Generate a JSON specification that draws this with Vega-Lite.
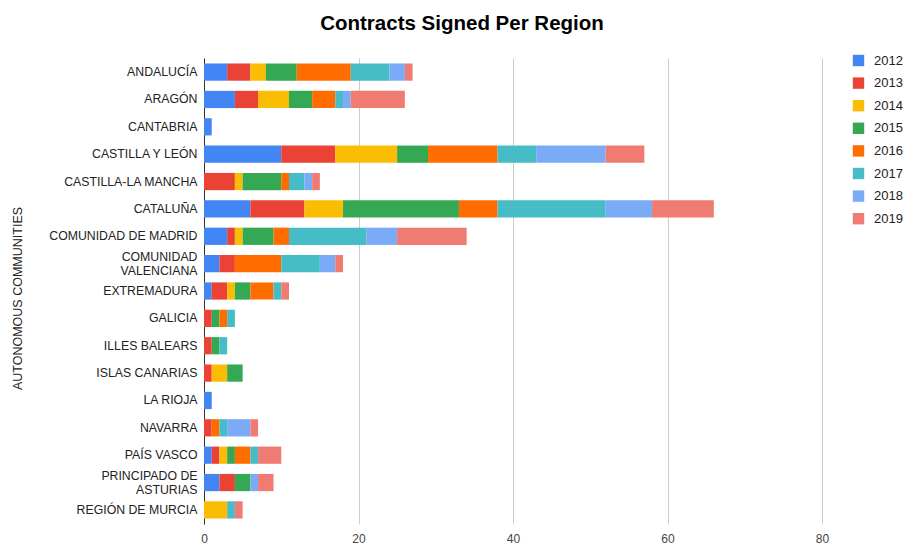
{
  "$schema": "https://vega.github.io/schema/vega-lite/v6.json",
  "width": 618,
  "height": 466,
  "autosize": {"type": "none"},
  "padding": {"left": 204, "top": 58, "right": 83, "bottom": 23},
  "background": "white",
  "title": {
    "text": "Contracts Signed Per Region",
    "font": "Liberation Sans",
    "fontSize": 20.5,
    "fontWeight": "bold",
    "color": "#000000",
    "anchor": "middle",
    "dx": -51,
    "offset": 20
  },
  "data": {
    "values": [
      {"region": "ANDALUCÍA", "year": "2012", "count": 3},
      {"region": "ANDALUCÍA", "year": "2013", "count": 3},
      {"region": "ANDALUCÍA", "year": "2014", "count": 2},
      {"region": "ANDALUCÍA", "year": "2015", "count": 4},
      {"region": "ANDALUCÍA", "year": "2016", "count": 7},
      {"region": "ANDALUCÍA", "year": "2017", "count": 5},
      {"region": "ANDALUCÍA", "year": "2018", "count": 2},
      {"region": "ANDALUCÍA", "year": "2019", "count": 1},
      {"region": "ARAGÓN", "year": "2012", "count": 4},
      {"region": "ARAGÓN", "year": "2013", "count": 3},
      {"region": "ARAGÓN", "year": "2014", "count": 4},
      {"region": "ARAGÓN", "year": "2015", "count": 3},
      {"region": "ARAGÓN", "year": "2016", "count": 3},
      {"region": "ARAGÓN", "year": "2017", "count": 1},
      {"region": "ARAGÓN", "year": "2018", "count": 1},
      {"region": "ARAGÓN", "year": "2019", "count": 7},
      {"region": "CANTABRIA", "year": "2012", "count": 1},
      {"region": "CASTILLA Y LEÓN", "year": "2012", "count": 10},
      {"region": "CASTILLA Y LEÓN", "year": "2013", "count": 7},
      {"region": "CASTILLA Y LEÓN", "year": "2014", "count": 8},
      {"region": "CASTILLA Y LEÓN", "year": "2015", "count": 4},
      {"region": "CASTILLA Y LEÓN", "year": "2016", "count": 9},
      {"region": "CASTILLA Y LEÓN", "year": "2017", "count": 5},
      {"region": "CASTILLA Y LEÓN", "year": "2018", "count": 9},
      {"region": "CASTILLA Y LEÓN", "year": "2019", "count": 5},
      {"region": "CASTILLA-LA MANCHA", "year": "2013", "count": 4},
      {"region": "CASTILLA-LA MANCHA", "year": "2014", "count": 1},
      {"region": "CASTILLA-LA MANCHA", "year": "2015", "count": 5},
      {"region": "CASTILLA-LA MANCHA", "year": "2016", "count": 1},
      {"region": "CASTILLA-LA MANCHA", "year": "2017", "count": 2},
      {"region": "CASTILLA-LA MANCHA", "year": "2018", "count": 1},
      {"region": "CASTILLA-LA MANCHA", "year": "2019", "count": 1},
      {"region": "CATALUÑA", "year": "2012", "count": 6},
      {"region": "CATALUÑA", "year": "2013", "count": 7},
      {"region": "CATALUÑA", "year": "2014", "count": 5},
      {"region": "CATALUÑA", "year": "2015", "count": 15},
      {"region": "CATALUÑA", "year": "2016", "count": 5},
      {"region": "CATALUÑA", "year": "2017", "count": 14},
      {"region": "CATALUÑA", "year": "2018", "count": 6},
      {"region": "CATALUÑA", "year": "2019", "count": 8},
      {"region": "COMUNIDAD DE MADRID", "year": "2012", "count": 3},
      {"region": "COMUNIDAD DE MADRID", "year": "2013", "count": 1},
      {"region": "COMUNIDAD DE MADRID", "year": "2014", "count": 1},
      {"region": "COMUNIDAD DE MADRID", "year": "2015", "count": 4},
      {"region": "COMUNIDAD DE MADRID", "year": "2016", "count": 2},
      {"region": "COMUNIDAD DE MADRID", "year": "2017", "count": 10},
      {"region": "COMUNIDAD DE MADRID", "year": "2018", "count": 4},
      {"region": "COMUNIDAD DE MADRID", "year": "2019", "count": 9},
      {"region": "COMUNIDAD VALENCIANA", "year": "2012", "count": 2},
      {"region": "COMUNIDAD VALENCIANA", "year": "2013", "count": 2},
      {"region": "COMUNIDAD VALENCIANA", "year": "2016", "count": 6},
      {"region": "COMUNIDAD VALENCIANA", "year": "2017", "count": 5},
      {"region": "COMUNIDAD VALENCIANA", "year": "2018", "count": 2},
      {"region": "COMUNIDAD VALENCIANA", "year": "2019", "count": 1},
      {"region": "EXTREMADURA", "year": "2012", "count": 1},
      {"region": "EXTREMADURA", "year": "2013", "count": 2},
      {"region": "EXTREMADURA", "year": "2014", "count": 1},
      {"region": "EXTREMADURA", "year": "2015", "count": 2},
      {"region": "EXTREMADURA", "year": "2016", "count": 3},
      {"region": "EXTREMADURA", "year": "2017", "count": 1},
      {"region": "EXTREMADURA", "year": "2019", "count": 1},
      {"region": "GALICIA", "year": "2013", "count": 1},
      {"region": "GALICIA", "year": "2015", "count": 1},
      {"region": "GALICIA", "year": "2016", "count": 1},
      {"region": "GALICIA", "year": "2017", "count": 1},
      {"region": "ILLES BALEARS", "year": "2013", "count": 1},
      {"region": "ILLES BALEARS", "year": "2015", "count": 1},
      {"region": "ILLES BALEARS", "year": "2017", "count": 1},
      {"region": "ISLAS CANARIAS", "year": "2013", "count": 1},
      {"region": "ISLAS CANARIAS", "year": "2014", "count": 2},
      {"region": "ISLAS CANARIAS", "year": "2015", "count": 2},
      {"region": "LA RIOJA", "year": "2012", "count": 1},
      {"region": "NAVARRA", "year": "2013", "count": 1},
      {"region": "NAVARRA", "year": "2016", "count": 1},
      {"region": "NAVARRA", "year": "2017", "count": 1},
      {"region": "NAVARRA", "year": "2018", "count": 3},
      {"region": "NAVARRA", "year": "2019", "count": 1},
      {"region": "PAÍS VASCO", "year": "2012", "count": 1},
      {"region": "PAÍS VASCO", "year": "2013", "count": 1},
      {"region": "PAÍS VASCO", "year": "2014", "count": 1},
      {"region": "PAÍS VASCO", "year": "2015", "count": 1},
      {"region": "PAÍS VASCO", "year": "2016", "count": 2},
      {"region": "PAÍS VASCO", "year": "2017", "count": 1},
      {"region": "PAÍS VASCO", "year": "2019", "count": 3},
      {"region": "PRINCIPADO DE ASTURIAS", "year": "2012", "count": 2},
      {"region": "PRINCIPADO DE ASTURIAS", "year": "2013", "count": 2},
      {"region": "PRINCIPADO DE ASTURIAS", "year": "2015", "count": 2},
      {"region": "PRINCIPADO DE ASTURIAS", "year": "2018", "count": 1},
      {"region": "PRINCIPADO DE ASTURIAS", "year": "2019", "count": 2},
      {"region": "REGIÓN DE MURCIA", "year": "2014", "count": 3},
      {"region": "REGIÓN DE MURCIA", "year": "2017", "count": 1},
      {"region": "REGIÓN DE MURCIA", "year": "2019", "count": 1}
    ]
  },
  "mark": {"type": "bar"},
  "encoding": {
    "y": {
      "field": "region",
      "type": "nominal",
      "sort": ["ANDALUCÍA", "ARAGÓN", "CANTABRIA", "CASTILLA Y LEÓN", "CASTILLA-LA MANCHA", "CATALUÑA", "COMUNIDAD DE MADRID", "COMUNIDAD VALENCIANA", "EXTREMADURA", "GALICIA", "ILLES BALEARS", "ISLAS CANARIAS", "LA RIOJA", "NAVARRA", "PAÍS VASCO", "PRINCIPADO DE ASTURIAS", "REGIÓN DE MURCIA"],
      "scale": {"paddingInner": 0.37, "paddingOuter": 0.2},
      "axis": {
        "title": "AUTONOMOUS COMMUNITIES",
        "titleFont": "Liberation Sans",
        "titleFontSize": 12.5,
        "titleFontWeight": "normal",
        "titleColor": "#222222",
        "titleX": -193,
        "titleY": 240,
        "titleAngle": -90,
        "titleAlign": "center",
        "titleBaseline": "top",
        "labelFont": "Liberation Sans",
        "labelFontSize": 12.3,
        "labelColor": "#222222",
        "labelPadding": 7,
        "labelLineHeight": 14,
        "labelOffset": {"expr": "datum.value == 'COMUNIDAD VALENCIANA' || datum.value == 'PRINCIPADO DE ASTURIAS' ? -7 : 0"},
        "labelExpr": "datum.label == 'COMUNIDAD VALENCIANA' ? ['COMUNIDAD', 'VALENCIANA'] : datum.label == 'PRINCIPADO DE ASTURIAS' ? ['PRINCIPADO DE', 'ASTURIAS'] : datum.label",
        "ticks": false,
        "domainColor": "#333333",
        "domainWidth": 1,
        "grid": false
      }
    },
    "x": {
      "field": "count",
      "type": "quantitative",
      "aggregate": "sum",
      "stack": "zero",
      "scale": {"domain": [0, 80], "nice": false},
      "axis": {
        "title": null,
        "values": [0, 20, 40, 60, 80],
        "labelFont": "Liberation Sans",
        "labelFontSize": 12,
        "labelColor": "#444444",
        "labelPadding": 9,
        "labelFlush": false,
        "ticks": false,
        "domain": false,
        "grid": true,
        "gridColor": "#cccccc",
        "gridWidth": 1
      }
    },
    "color": {
      "field": "year",
      "type": "nominal",
      "scale": {
        "domain": ["2012", "2013", "2014", "2015", "2016", "2017", "2018", "2019"],
        "range": ["#4285F4", "#EA4335", "#FBBC04", "#34A853", "#FF6D01", "#46BDC6", "#7BAAF7", "#F07B72"]
      },
      "legend": {
        "title": null,
        "orient": "none",
        "legendX": 648,
        "legendY": -4,
        "symbolType": "square",
        "symbolSize": 130,
        "symbolStrokeWidth": 0,
        "labelFont": "Liberation Sans",
        "labelFontSize": 13,
        "labelColor": "#222222",
        "rowPadding": 8.6,
        "labelOffset": 9
      }
    },
    "order": {"field": "year", "sort": "ascending"}
  },
  "config": {"view": {"stroke": null}}
}
